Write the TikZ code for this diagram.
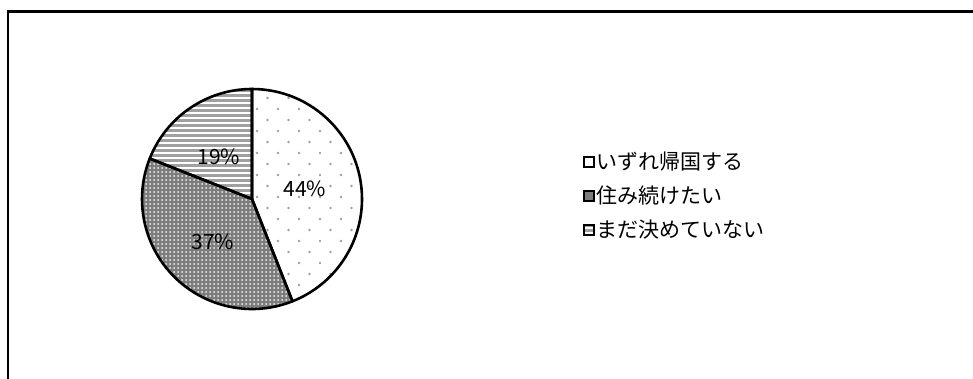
\documentclass[tikz,border=0pt]{standalone}
\usepackage{fontspec}
\setmainfont{Noto Sans CJK JP}
\usetikzlibrary{patterns}
\pgfdeclarepatternformonly{sparsedots}{\pgfpoint{-2bp}{-2bp}}{\pgfpoint{23bp}{24bp}}{\pgfpoint{21bp}{22bp}}{%
  \pgfpathcircle{\pgfpoint{5bp}{5bp}}{1.4bp}%
  \pgfpathcircle{\pgfpoint{15.5bp}{16bp}}{1.4bp}%
  \pgfusepath{fill}}
\pgfdeclarepatternformonly{densedots}{\pgfpoint{-1bp}{-1bp}}{\pgfpoint{5bp}{5bp}}{\pgfpoint{4bp}{4bp}}{%
  \pgfpathcircle{\pgfpoint{2bp}{2bp}}{1bp}%
  \pgfusepath{fill}}
\pgfdeclarepatternformonly{hstripes}{\pgfpoint{-1bp}{-1bp}}{\pgfpoint{6bp}{6bp}}{\pgfpoint{5bp}{5bp}}{%
  \pgfsetlinewidth{2.4bp}%
  \pgfpathmoveto{\pgfpoint{-1bp}{2.5bp}}%
  \pgfpathlineto{\pgfpoint{6bp}{2.5bp}}%
  \pgfusepath{stroke}}
\definecolor{patgray}{RGB}{160,160,160}
\definecolor{darkpat}{RGB}{125,125,125}
\tikzset{
  slice/.style={draw=black, line width=2.6bp, line join=round},
  pct/.style={font=\fontsize{21bp}{24bp}\selectfont, inner sep=0pt},
  legtext/.style={font=\fontsize{21bp}{24bp}\selectfont, anchor=west, inner sep=0pt},
  legkey/.style={draw=black, line width=2bp, minimum size=10bp, inner sep=0pt},
}
\begin{document}
\begin{tikzpicture}[x=1bp,y=1bp]
\useasboundingbox (0,0) rectangle (973,378);
\fill[white] (0,0) rectangle (973,378);
% frame
\draw[line width=2.5bp] (8,-2) -- (8,366.5) -- (980,366.5);
% pie
\coordinate (C) at (252,179);
\def\R{110}
% 44%
\fill[white] (C) -- ++(90:\R) arc[start angle=90, end angle=-68.4, radius=\R] -- cycle;
\fill[pattern=sparsedots, pattern color=patgray] (C) -- ++(90:\R) arc[start angle=90, end angle=-68.4, radius=\R] -- cycle;
% 37%
\fill[darkpat] (C) -- ++(-68.4:\R) arc[start angle=-68.4, end angle=-201.6, radius=\R] -- cycle;
\fill[pattern=densedots, pattern color=white!90!darkpat] (C) -- ++(-68.4:\R) arc[start angle=-68.4, end angle=-201.6, radius=\R] -- cycle;
% 19%
\fill[white] (C) -- ++(158.4:\R) arc[start angle=158.4, end angle=90, radius=\R] -- cycle;
\fill[pattern=hstripes, pattern color=patgray] (C) -- ++(158.4:\R) arc[start angle=158.4, end angle=90, radius=\R] -- cycle;
% outlines
\draw[slice] (C) -- ++(90:\R) arc[start angle=90, end angle=-68.4, radius=\R] -- cycle;
\draw[slice] (C) -- ++(-68.4:\R) arc[start angle=-68.4, end angle=-201.6, radius=\R] -- cycle;
\draw[slice] (C) -- ++(158.4:\R) arc[start angle=158.4, end angle=90, radius=\R] -- cycle;
% labels
\node[pct] (p44) at (305,189) {44\%};
\node[pct] (p37) at (213,136) {37\%};
\node[pct] (p19) at (219,221) {19\%};
% legend
\node[legkey, fill=white] (k1) at (588.5,216) {};
\node[legkey, fill=darkpat] (k2) at (588.5,182) {};
\node[legkey, fill=white, pattern=hstripes, pattern color=patgray] (k3) at (588.5,148) {};
\node[legtext] (t1) at (596,216) {いずれ帰国する};
\node[legtext] (t2) at (596,182) {住み続けたい};
\node[legtext] (t3) at (596,148) {まだ決めていない};
\end{tikzpicture}
\end{document}
